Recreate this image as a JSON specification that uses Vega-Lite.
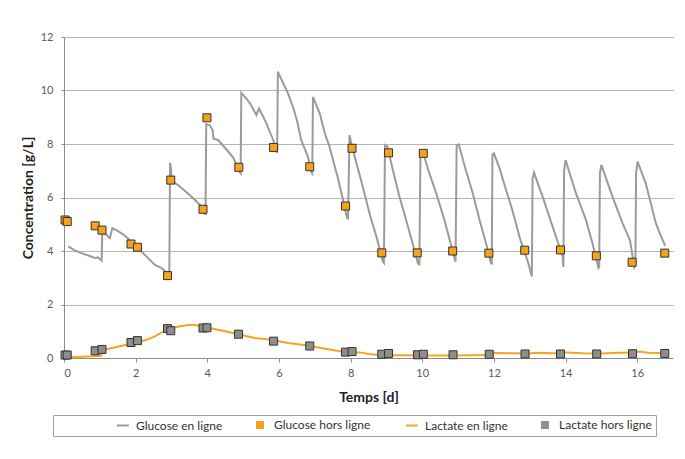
{
  "$schema": "https://vega.github.io/schema/vega-lite/v6.json",
  "width": 609,
  "height": 321,
  "autosize": {"type": "none"},
  "padding": {"left": 64, "top": 37, "right": 12, "bottom": 101},
  "background": "white",
  "config": {
    "view": {"stroke": null},
    "font": "Lato",
    "axis": {
      "labelFont": "Lato",
      "titleFont": "Lato",
      "labelColor": "#5a5a5a",
      "labelFontSize": 11,
      "domainColor": "#8c8c8c",
      "tickColor": "#8c8c8c",
      "gridColor": "#b4b4b4",
      "titleColor": "#222222",
      "titleFontWeight": "bold",
      "titleFontSize": 14
    },
    "legend": {
      "labelFont": "Lato",
      "labelFontSize": 12,
      "labelColor": "#333333",
      "titleFont": "Lato"
    }
  },
  "datasets": {
    "online": [
      {"series": "Glucose en ligne", "t": 0.12, "v": 4.17},
      {"series": "Glucose en ligne", "t": 0.3, "v": 4.02},
      {"series": "Glucose en ligne", "t": 0.49, "v": 3.92},
      {"series": "Glucose en ligne", "t": 0.7, "v": 3.82},
      {"series": "Glucose en ligne", "t": 0.86, "v": 3.74},
      {"series": "Glucose en ligne", "t": 0.95, "v": 3.76},
      {"series": "Glucose en ligne", "t": 1.05, "v": 3.64},
      {"series": "Glucose en ligne", "t": 1.07, "v": 4.79},
      {"series": "Glucose en ligne", "t": 1.15, "v": 4.65},
      {"series": "Glucose en ligne", "t": 1.28, "v": 4.48},
      {"series": "Glucose en ligne", "t": 1.35, "v": 4.85},
      {"series": "Glucose en ligne", "t": 1.5, "v": 4.75},
      {"series": "Glucose en ligne", "t": 1.7, "v": 4.57},
      {"series": "Glucose en ligne", "t": 1.88, "v": 4.35},
      {"series": "Glucose en ligne", "t": 2.07, "v": 4.1},
      {"series": "Glucose en ligne", "t": 2.3, "v": 3.8},
      {"series": "Glucose en ligne", "t": 2.54, "v": 3.48},
      {"series": "Glucose en ligne", "t": 2.7, "v": 3.38},
      {"series": "Glucose en ligne", "t": 2.89, "v": 3.18},
      {"series": "Glucose en ligne", "t": 2.94, "v": 3.15},
      {"series": "Glucose en ligne", "t": 2.96, "v": 7.3},
      {"series": "Glucose en ligne", "t": 2.99, "v": 7.03},
      {"series": "Glucose en ligne", "t": 3.0, "v": 6.62},
      {"series": "Glucose en ligne", "t": 3.2, "v": 6.45},
      {"series": "Glucose en ligne", "t": 3.42, "v": 6.2},
      {"series": "Glucose en ligne", "t": 3.6, "v": 5.98},
      {"series": "Glucose en ligne", "t": 3.79, "v": 5.72},
      {"series": "Glucose en ligne", "t": 3.93, "v": 5.41},
      {"series": "Glucose en ligne", "t": 3.95, "v": 5.35},
      {"series": "Glucose en ligne", "t": 3.97, "v": 8.74},
      {"series": "Glucose en ligne", "t": 4.07, "v": 8.7},
      {"series": "Glucose en ligne", "t": 4.15, "v": 8.52},
      {"series": "Glucose en ligne", "t": 4.17, "v": 8.2},
      {"series": "Glucose en ligne", "t": 4.3, "v": 8.15},
      {"series": "Glucose en ligne", "t": 4.5, "v": 7.85},
      {"series": "Glucose en ligne", "t": 4.72, "v": 7.5},
      {"series": "Glucose en ligne", "t": 4.9, "v": 6.96},
      {"series": "Glucose en ligne", "t": 4.93, "v": 6.9},
      {"series": "Glucose en ligne", "t": 4.95, "v": 9.91},
      {"series": "Glucose en ligne", "t": 5.09, "v": 9.7},
      {"series": "Glucose en ligne", "t": 5.2, "v": 9.5},
      {"series": "Glucose en ligne", "t": 5.37, "v": 9.08},
      {"series": "Glucose en ligne", "t": 5.44, "v": 9.33},
      {"series": "Glucose en ligne", "t": 5.55, "v": 9.05},
      {"series": "Glucose en ligne", "t": 5.65, "v": 8.77},
      {"series": "Glucose en ligne", "t": 5.84, "v": 8.15},
      {"series": "Glucose en ligne", "t": 5.93, "v": 7.71},
      {"series": "Glucose en ligne", "t": 5.95, "v": 7.7},
      {"series": "Glucose en ligne", "t": 5.97, "v": 10.7},
      {"series": "Glucose en ligne", "t": 6.1, "v": 10.32},
      {"series": "Glucose en ligne", "t": 6.25, "v": 9.9},
      {"series": "Glucose en ligne", "t": 6.39, "v": 9.39},
      {"series": "Glucose en ligne", "t": 6.5, "v": 8.9},
      {"series": "Glucose en ligne", "t": 6.62, "v": 8.15},
      {"series": "Glucose en ligne", "t": 6.81, "v": 7.52},
      {"series": "Glucose en ligne", "t": 6.9, "v": 6.96},
      {"series": "Glucose en ligne", "t": 6.93, "v": 6.9},
      {"series": "Glucose en ligne", "t": 6.95, "v": 9.76},
      {"series": "Glucose en ligne", "t": 7.14, "v": 9.14},
      {"series": "Glucose en ligne", "t": 7.28, "v": 8.4},
      {"series": "Glucose en ligne", "t": 7.4, "v": 7.95},
      {"series": "Glucose en ligne", "t": 7.51, "v": 7.4},
      {"series": "Glucose en ligne", "t": 7.65, "v": 6.7},
      {"series": "Glucose en ligne", "t": 7.79, "v": 5.91},
      {"series": "Glucose en ligne", "t": 7.9, "v": 5.25},
      {"series": "Glucose en ligne", "t": 7.93, "v": 5.22},
      {"series": "Glucose en ligne", "t": 7.97, "v": 8.33},
      {"series": "Glucose en ligne", "t": 8.04, "v": 7.9},
      {"series": "Glucose en ligne", "t": 8.2, "v": 7.1},
      {"series": "Glucose en ligne", "t": 8.34, "v": 6.4},
      {"series": "Glucose en ligne", "t": 8.55, "v": 5.3},
      {"series": "Glucose en ligne", "t": 8.72, "v": 4.54},
      {"series": "Glucose en ligne", "t": 8.9, "v": 3.6},
      {"series": "Glucose en ligne", "t": 8.93, "v": 3.55},
      {"series": "Glucose en ligne", "t": 8.96, "v": 7.96},
      {"series": "Glucose en ligne", "t": 9.03, "v": 7.9},
      {"series": "Glucose en ligne", "t": 9.18, "v": 7.03},
      {"series": "Glucose en ligne", "t": 9.35, "v": 6.1},
      {"series": "Glucose en ligne", "t": 9.55, "v": 5.16},
      {"series": "Glucose en ligne", "t": 9.75, "v": 4.2},
      {"series": "Glucose en ligne", "t": 9.88, "v": 3.54},
      {"series": "Glucose en ligne", "t": 9.92, "v": 3.5},
      {"series": "Glucose en ligne", "t": 9.95, "v": 7.71},
      {"series": "Glucose en ligne", "t": 10.03, "v": 7.65},
      {"series": "Glucose en ligne", "t": 10.2, "v": 6.9},
      {"series": "Glucose en ligne", "t": 10.39, "v": 6.16},
      {"series": "Glucose en ligne", "t": 10.62, "v": 5.16},
      {"series": "Glucose en ligne", "t": 10.9, "v": 3.73},
      {"series": "Glucose en ligne", "t": 10.93, "v": 3.6},
      {"series": "Glucose en ligne", "t": 10.96, "v": 7.96},
      {"series": "Glucose en ligne", "t": 11.02, "v": 7.98},
      {"series": "Glucose en ligne", "t": 11.2, "v": 7.1},
      {"series": "Glucose en ligne", "t": 11.41, "v": 6.16},
      {"series": "Glucose en ligne", "t": 11.6, "v": 5.16},
      {"series": "Glucose en ligne", "t": 11.8, "v": 4.2},
      {"series": "Glucose en ligne", "t": 11.92, "v": 3.55},
      {"series": "Glucose en ligne", "t": 11.94, "v": 3.5},
      {"series": "Glucose en ligne", "t": 11.96, "v": 7.6},
      {"series": "Glucose en ligne", "t": 12.0, "v": 7.65},
      {"series": "Glucose en ligne", "t": 12.16, "v": 7.09},
      {"series": "Glucose en ligne", "t": 12.34, "v": 6.28},
      {"series": "Glucose en ligne", "t": 12.5, "v": 5.6},
      {"series": "Glucose en ligne", "t": 12.74, "v": 4.41},
      {"series": "Glucose en ligne", "t": 12.95, "v": 3.6},
      {"series": "Glucose en ligne", "t": 13.06, "v": 3.05},
      {"series": "Glucose en ligne", "t": 13.08, "v": 6.7},
      {"series": "Glucose en ligne", "t": 13.12, "v": 6.93},
      {"series": "Glucose en ligne", "t": 13.36, "v": 6.03},
      {"series": "Glucose en ligne", "t": 13.64, "v": 4.91},
      {"series": "Glucose en ligne", "t": 13.92, "v": 3.79},
      {"series": "Glucose en ligne", "t": 13.94, "v": 3.4},
      {"series": "Glucose en ligne", "t": 13.96, "v": 7.0},
      {"series": "Glucose en ligne", "t": 14.0, "v": 7.4},
      {"series": "Glucose en ligne", "t": 14.29, "v": 6.16},
      {"series": "Glucose en ligne", "t": 14.57, "v": 5.16},
      {"series": "Glucose en ligne", "t": 14.75, "v": 4.3},
      {"series": "Glucose en ligne", "t": 14.92, "v": 3.36},
      {"series": "Glucose en ligne", "t": 14.94, "v": 3.4},
      {"series": "Glucose en ligne", "t": 14.96, "v": 6.9},
      {"series": "Glucose en ligne", "t": 15.0, "v": 7.22},
      {"series": "Glucose en ligne", "t": 15.31, "v": 6.03},
      {"series": "Glucose en ligne", "t": 15.59, "v": 5.04},
      {"series": "Glucose en ligne", "t": 15.8, "v": 4.4},
      {"series": "Glucose en ligne", "t": 15.92, "v": 3.4},
      {"series": "Glucose en ligne", "t": 15.95, "v": 3.5},
      {"series": "Glucose en ligne", "t": 15.97, "v": 6.9},
      {"series": "Glucose en ligne", "t": 16.01, "v": 7.34},
      {"series": "Glucose en ligne", "t": 16.24, "v": 6.53},
      {"series": "Glucose en ligne", "t": 16.52, "v": 5.04},
      {"series": "Glucose en ligne", "t": 16.65, "v": 4.6},
      {"series": "Glucose en ligne", "t": 16.78, "v": 4.2},
      {"series": "Lactate en ligne", "t": 0.1, "v": 0.03},
      {"series": "Lactate en ligne", "t": 0.5, "v": 0.05},
      {"series": "Lactate en ligne", "t": 1.04, "v": 0.08},
      {"series": "Lactate en ligne", "t": 1.08, "v": 0.3},
      {"series": "Lactate en ligne", "t": 1.5, "v": 0.42},
      {"series": "Lactate en ligne", "t": 2.0, "v": 0.58},
      {"series": "Lactate en ligne", "t": 2.3, "v": 0.68},
      {"series": "Lactate en ligne", "t": 2.54, "v": 0.81},
      {"series": "Lactate en ligne", "t": 2.75, "v": 0.98},
      {"series": "Lactate en ligne", "t": 2.91, "v": 1.08},
      {"series": "Lactate en ligne", "t": 3.2, "v": 1.18},
      {"series": "Lactate en ligne", "t": 3.47, "v": 1.23},
      {"series": "Lactate en ligne", "t": 3.66, "v": 1.23},
      {"series": "Lactate en ligne", "t": 4.02, "v": 1.13},
      {"series": "Lactate en ligne", "t": 4.5, "v": 1.0},
      {"series": "Lactate en ligne", "t": 4.87, "v": 0.89},
      {"series": "Lactate en ligne", "t": 5.32, "v": 0.75},
      {"series": "Lactate en ligne", "t": 5.79, "v": 0.68},
      {"series": "Lactate en ligne", "t": 6.25, "v": 0.56},
      {"series": "Lactate en ligne", "t": 6.81, "v": 0.47},
      {"series": "Lactate en ligne", "t": 7.18, "v": 0.37},
      {"series": "Lactate en ligne", "t": 7.5, "v": 0.3},
      {"series": "Lactate en ligne", "t": 7.83, "v": 0.22},
      {"series": "Lactate en ligne", "t": 8.25, "v": 0.21},
      {"series": "Lactate en ligne", "t": 8.5, "v": 0.15},
      {"series": "Lactate en ligne", "t": 8.87, "v": 0.1},
      {"series": "Lactate en ligne", "t": 9.5, "v": 0.1},
      {"series": "Lactate en ligne", "t": 10.02, "v": 0.09},
      {"series": "Lactate en ligne", "t": 11.0, "v": 0.09},
      {"series": "Lactate en ligne", "t": 11.87, "v": 0.11},
      {"series": "Lactate en ligne", "t": 12.02, "v": 0.19},
      {"series": "Lactate en ligne", "t": 12.5, "v": 0.18},
      {"series": "Lactate en ligne", "t": 13.0, "v": 0.17},
      {"series": "Lactate en ligne", "t": 13.2, "v": 0.2},
      {"series": "Lactate en ligne", "t": 13.83, "v": 0.17},
      {"series": "Lactate en ligne", "t": 14.01, "v": 0.21},
      {"series": "Lactate en ligne", "t": 14.5, "v": 0.18},
      {"series": "Lactate en ligne", "t": 15.0, "v": 0.17},
      {"series": "Lactate en ligne", "t": 15.5, "v": 0.2},
      {"series": "Lactate en ligne", "t": 15.9, "v": 0.21},
      {"series": "Lactate en ligne", "t": 16.06, "v": 0.24},
      {"series": "Lactate en ligne", "t": 16.3, "v": 0.2},
      {"series": "Lactate en ligne", "t": 16.77, "v": 0.19}
    ],
    "offline": [
      {"series": "Glucose hors ligne", "t": 0.03, "v": 5.16},
      {"series": "Glucose hors ligne", "t": 0.09, "v": 5.1},
      {"series": "Glucose hors ligne", "t": 0.87, "v": 4.94},
      {"series": "Glucose hors ligne", "t": 1.06, "v": 4.78},
      {"series": "Glucose hors ligne", "t": 1.87, "v": 4.26},
      {"series": "Glucose hors ligne", "t": 2.05, "v": 4.14},
      {"series": "Glucose hors ligne", "t": 2.89, "v": 3.08},
      {"series": "Glucose hors ligne", "t": 2.98, "v": 6.65},
      {"series": "Glucose hors ligne", "t": 3.88, "v": 5.56},
      {"series": "Glucose hors ligne", "t": 3.99, "v": 8.98},
      {"series": "Glucose hors ligne", "t": 4.88, "v": 7.13},
      {"series": "Glucose hors ligne", "t": 5.85, "v": 7.87},
      {"series": "Glucose hors ligne", "t": 6.86, "v": 7.15},
      {"series": "Glucose hors ligne", "t": 7.86, "v": 5.68},
      {"series": "Glucose hors ligne", "t": 8.04, "v": 7.84},
      {"series": "Glucose hors ligne", "t": 8.87, "v": 3.93},
      {"series": "Glucose hors ligne", "t": 9.06, "v": 7.67},
      {"series": "Glucose hors ligne", "t": 9.86, "v": 3.93},
      {"series": "Glucose hors ligne", "t": 10.03, "v": 7.65},
      {"series": "Glucose hors ligne", "t": 10.85, "v": 4.0},
      {"series": "Glucose hors ligne", "t": 11.86, "v": 3.92},
      {"series": "Glucose hors ligne", "t": 12.86, "v": 4.03},
      {"series": "Glucose hors ligne", "t": 13.86, "v": 4.04},
      {"series": "Glucose hors ligne", "t": 14.86, "v": 3.82},
      {"series": "Glucose hors ligne", "t": 15.86, "v": 3.58},
      {"series": "Glucose hors ligne", "t": 16.77, "v": 3.92},
      {"series": "Lactate hors ligne", "t": 0.03, "v": 0.11},
      {"series": "Lactate hors ligne", "t": 0.09, "v": 0.11},
      {"series": "Lactate hors ligne", "t": 0.87, "v": 0.27},
      {"series": "Lactate hors ligne", "t": 1.06, "v": 0.32},
      {"series": "Lactate hors ligne", "t": 1.87, "v": 0.58},
      {"series": "Lactate hors ligne", "t": 2.05, "v": 0.65},
      {"series": "Lactate hors ligne", "t": 2.89, "v": 1.1},
      {"series": "Lactate hors ligne", "t": 2.98, "v": 1.02},
      {"series": "Lactate hors ligne", "t": 3.88, "v": 1.12},
      {"series": "Lactate hors ligne", "t": 3.99, "v": 1.13},
      {"series": "Lactate hors ligne", "t": 4.87, "v": 0.89},
      {"series": "Lactate hors ligne", "t": 5.85, "v": 0.63},
      {"series": "Lactate hors ligne", "t": 6.86, "v": 0.45},
      {"series": "Lactate hors ligne", "t": 7.86, "v": 0.22},
      {"series": "Lactate hors ligne", "t": 8.04, "v": 0.24},
      {"series": "Lactate hors ligne", "t": 8.87, "v": 0.14},
      {"series": "Lactate hors ligne", "t": 9.06, "v": 0.17},
      {"series": "Lactate hors ligne", "t": 9.87, "v": 0.12},
      {"series": "Lactate hors ligne", "t": 10.03, "v": 0.14},
      {"series": "Lactate hors ligne", "t": 10.86, "v": 0.12},
      {"series": "Lactate hors ligne", "t": 11.87, "v": 0.14},
      {"series": "Lactate hors ligne", "t": 12.87, "v": 0.15},
      {"series": "Lactate hors ligne", "t": 13.86, "v": 0.15},
      {"series": "Lactate hors ligne", "t": 14.87, "v": 0.15},
      {"series": "Lactate hors ligne", "t": 15.87, "v": 0.16},
      {"series": "Lactate hors ligne", "t": 16.77, "v": 0.17}
    ]
  },
  "encoding": {
    "x": {
      "field": "t",
      "type": "quantitative",
      "scale": {"domain": [0, 17], "nice": false, "zero": false},
      "axis": {
        "title": "Temps [d]",
        "values": [0, 2, 4, 6, 8, 10, 12, 14, 16],
        "grid": false,
        "tickSize": 4,
        "labelPadding": 5,
        "titlePadding": 12
      }
    },
    "y": {
      "field": "v",
      "type": "quantitative",
      "scale": {"domain": [0, 12], "nice": false},
      "axis": {
        "title": "Concentration [g/L]",
        "values": [0, 2, 4, 6, 8, 10, 12],
        "grid": true,
        "tickSize": 3,
        "labelPadding": 8,
        "titlePadding": 5
      }
    },
    "color": {
      "field": "series",
      "type": "nominal",
      "scale": {
        "domain": ["Glucose en ligne", "Glucose hors ligne", "Lactate en ligne", "Lactate hors ligne"],
        "range": ["#9b9b9b", "#f7a21b", "#f7a51f", "#8e8e8e"]
      },
      "legend": {
        "title": " ",
        "titleOrient": "left",
        "titleFontSize": 12,
        "titlePadding": 59,
        "orient": "none",
        "direction": "horizontal",
        "legendX": -11,
        "legendY": 378,
        "strokeColor": "#a0a0a0",
        "fillColor": "white",
        "padding": 4,
        "columnPadding": 30,
        "symbolSize": 36,
        "symbolStrokeWidth": 2,
        "labelOffset": 8
      }
    }
  },
  "layer": [
    {
      "data": {"name": "online"},
      "mark": {"type": "line", "strokeWidth": 2, "interpolate": "linear"},
      "encoding": {
        "detail": {"field": "series"}
      }
    },
    {
      "data": {"name": "offline"},
      "mark": {"type": "point", "shape": "square", "filled": true, "size": 64, "stroke": "#333333", "strokeWidth": 1, "opacity": 1},
      "encoding": {
        "shape": {
          "field": "series",
          "type": "nominal",
          "scale": {
            "domain": ["Glucose en ligne", "Glucose hors ligne", "Lactate en ligne", "Lactate hors ligne"],
            "range": ["M-1.75,0H2.25", "square", "M-1.75,0H2.25", "square"]
          },
          "legend": null
        }
      }
    }
  ]
}
